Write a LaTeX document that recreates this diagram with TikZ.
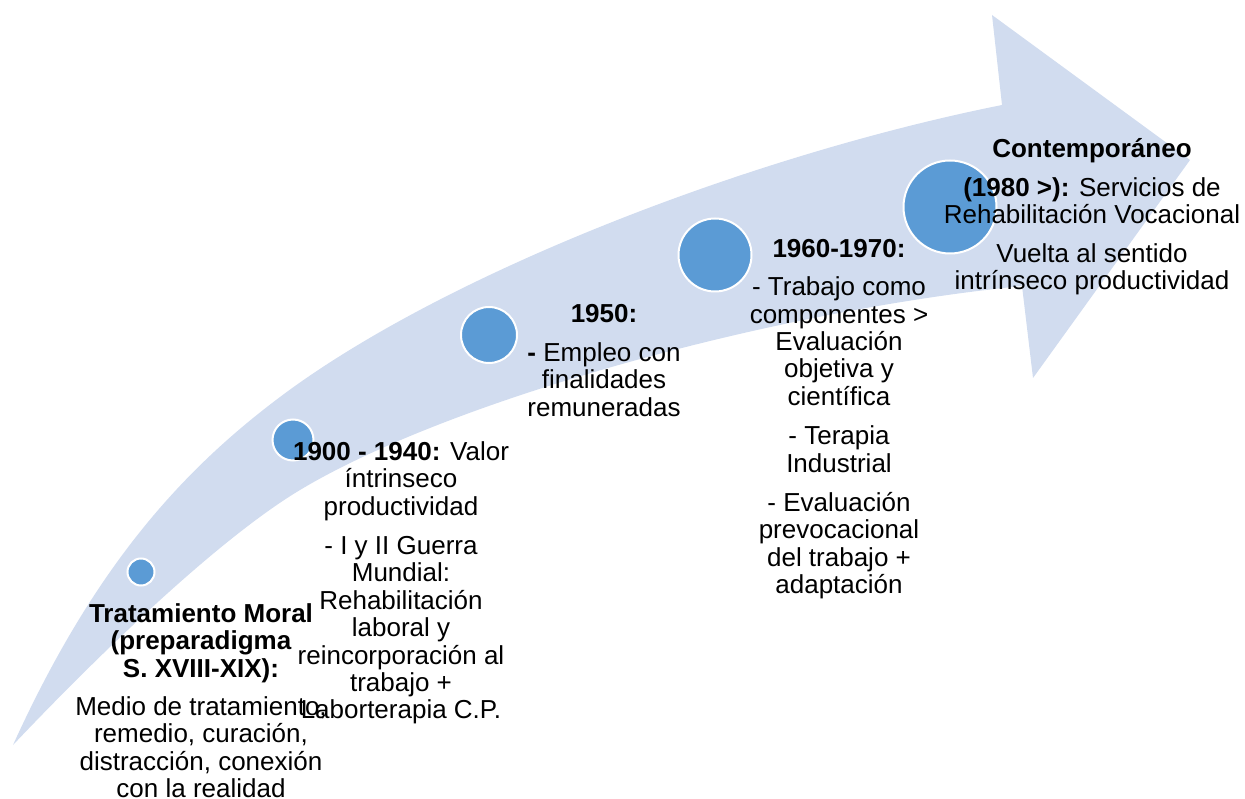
\documentclass[tikz,border=0pt]{standalone}
\usepackage{fontspec}
\setmainfont{Liberation Sans}
\definecolor{band}{RGB}{209,220,239}
\definecolor{dot}{RGB}{91,155,213}
\begin{document}
\begin{tikzpicture}[x=1pt,y=-1pt,
  dotnode/.style={circle,fill=dot,draw=white,line width=2pt,inner sep=0pt},
  txt/.style={anchor=north,align=center,inner sep=0pt,font=\fontsize{26}{27.4}\selectfont}]
\lineskiplimit=-50pt
\useasboundingbox (0,0) rectangle (1245,799);
% arrow band
\fill[band] (13,745) .. controls (93,569) and (180,472) .. (280,397)
  .. controls (445,273) and (752,155) .. (1002,105)
  -- (992,15) -- (1190,160) -- (1033,378) -- (1022,286)
  .. controls (772,311) and (450,400) .. (300,490)
  .. controls (220,538) and (103,650) .. (13,745) -- cycle;
% circles
\node[dotnode,minimum size=27pt] (c1) at (141,572) {};
\node[dotnode,minimum size=41pt] (c2) at (293,440) {};
\node[dotnode,minimum size=56pt] (c3) at (489,335) {};
\node[dotnode,minimum size=73pt] (c4) at (715,255) {};
\node[dotnode,minimum size=93pt] (c5) at (950,207) {};
% texts
\node[txt] (t1) at (201,597) {\rule{0pt}{25pt}\textbf{Tratamiento Moral}\\\textbf{(preparadigma}\\\textbf{S. XVIII-XIX):}\\[11pt]Medio de tratamiento,\\remedio, curación,\\distracción, conexión\\con la realidad};
\node[txt] (t2) at (401,435) {\rule{0pt}{25pt}\textbf{1900 - 1940:} Valor\\íntrinseco\\productividad\\[12pt]- I y II Guerra\\Mundial:\\Rehabilitación\\laboral y\\reincorporación al\\trabajo +\\Laborterapia C.P.};
\node[txt] (t3) at (604,297) {\rule{0pt}{25pt}\textbf{1950:}\\[12pt]\textbf{-} Empleo con\\finalidades\\remuneradas};
\node[txt] (t4) at (839,232) {\rule{0pt}{25pt}\textbf{1960-1970:}\\[11pt]- Trabajo como\\componentes >\\Evaluación\\objetiva y\\científica\\[12pt]- Terapia\\Industrial\\[12pt]- Evaluación\\prevocacional\\del trabajo +\\adaptación};
\node[txt] (t5) at (1092,132) {\rule{0pt}{25pt}\textbf{Contemporáneo}\\[12pt]\textbf{(1980 >):} Servicios de\\Rehabilitación Vocacional\\[11pt]Vuelta al sentido\\intrínseco productividad};
\end{tikzpicture}
\end{document}
